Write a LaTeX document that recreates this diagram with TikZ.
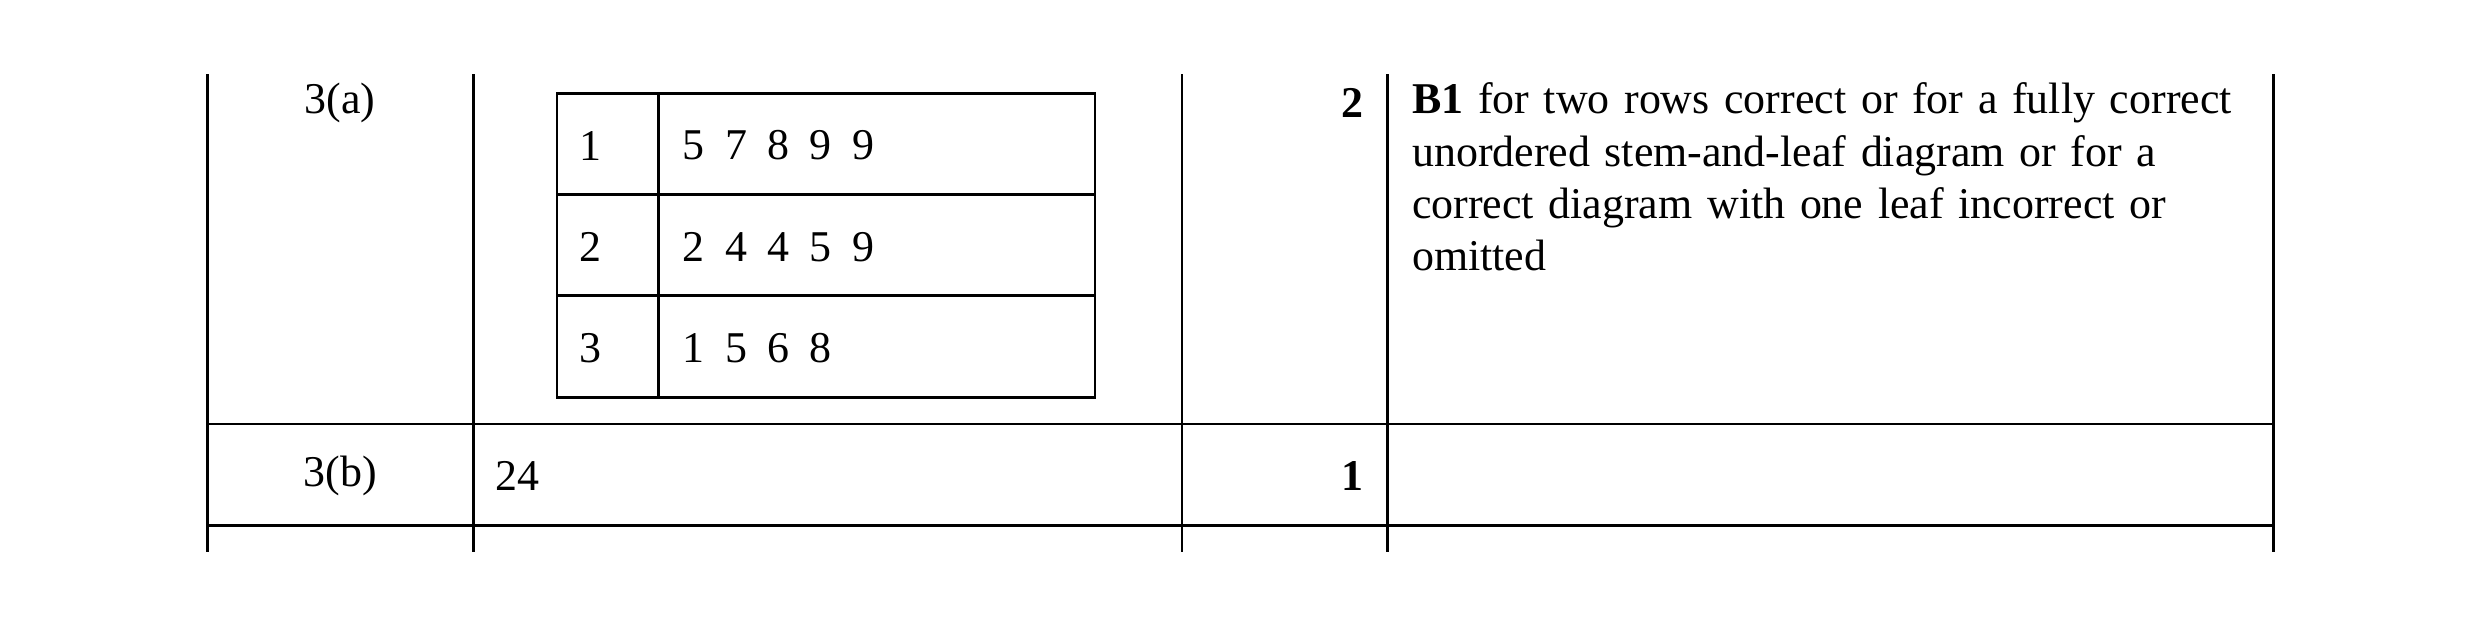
\documentclass[tikz,border=0pt]{standalone}
\usepackage{fontspec}
\setmainfont{Liberation Serif}
\usetikzlibrary{positioning}
\tikzstyle{rule}=[draw, line width=0.8pt]
\tikzstyle{cell}=[inner sep=0pt, font=\fontsize{12.5}{14.85}\selectfont]
\newcommand{\lf}{\hspace{5.8pt}}
\begin{document}
\begin{tikzpicture}[x=0.01582cm, y=-0.01582cm]
      \useasboundingbox (0,0) rectangle (1568,397);
      % Columns of the outer table
      \foreach \x/\name in {131/c0, 299/c1, 747/c2, 877/c3, 1437/c4} {
        \coordinate (\name t) at (\x,47);
        \coordinate (\name b) at (\x,349);
        \draw[rule] (\name t) -- (\name b);
      }
      % Row separators
      \foreach \y/\name in {268/r1, 332/r2} {
        \coordinate (\name l) at (131,\y);
        \coordinate (\name r) at (1437,\y);
        \draw[rule] (\name l) -- (\name r);
      }
      %
      % Stem-and-leaf box
      \coordinate (slA) at (352,59);
      \coordinate (slB) at (692,251);
      \draw[rule] (slA) rectangle (slB);
      \coordinate (stA) at (416,59);
      \coordinate (stB) at (416,251);
      \draw[rule] (stA) -- (stB);
      \foreach \y/\name in {123/h1, 187/h2} {
        \coordinate (\name l) at (352,\y);
        \coordinate (\name r) at (692,\y);
        \draw[rule] (\name l) -- (\name r);
      }
      \foreach \y/\stem/\leaves in {92/1/{5\lf7\lf8\lf9\lf9}, 156/2/{2\lf4\lf4\lf5\lf9}, 220/3/{1\lf5\lf6\lf8}} {
        \node[cell, anchor=west] (stem\stem) at (366,\y) {\stem};
        \node[cell, anchor=west] (leaf\stem) at (431,\y) {\leaves};
      }
      %
      % Question labels, answers and marks
      \node[cell] (qa) at (215,65) {3(a)};
      \node[cell] (qb) at (215,301) {3(b)};
      \node[cell, anchor=west] (ansb) at (313,301) {24};
      \node[cell, anchor=east, font=\fontsize{12.5}{14.85}\selectfont\bfseries] (mka) at (862,65) {2};
      \node[cell, anchor=east, font=\fontsize{12.5}{14.85}\selectfont\bfseries] (mkb) at (862,301) {1};
      \node[cell, anchor=north west, align=left, text width=580] (guide) at (892,52)
        {\textbf{B1} for two rows correct or for a fully correct\\unordered stem-and-leaf diagram or for a\\correct diagram with one leaf incorrect or\\omitted};
\end{tikzpicture}
\end{document}
